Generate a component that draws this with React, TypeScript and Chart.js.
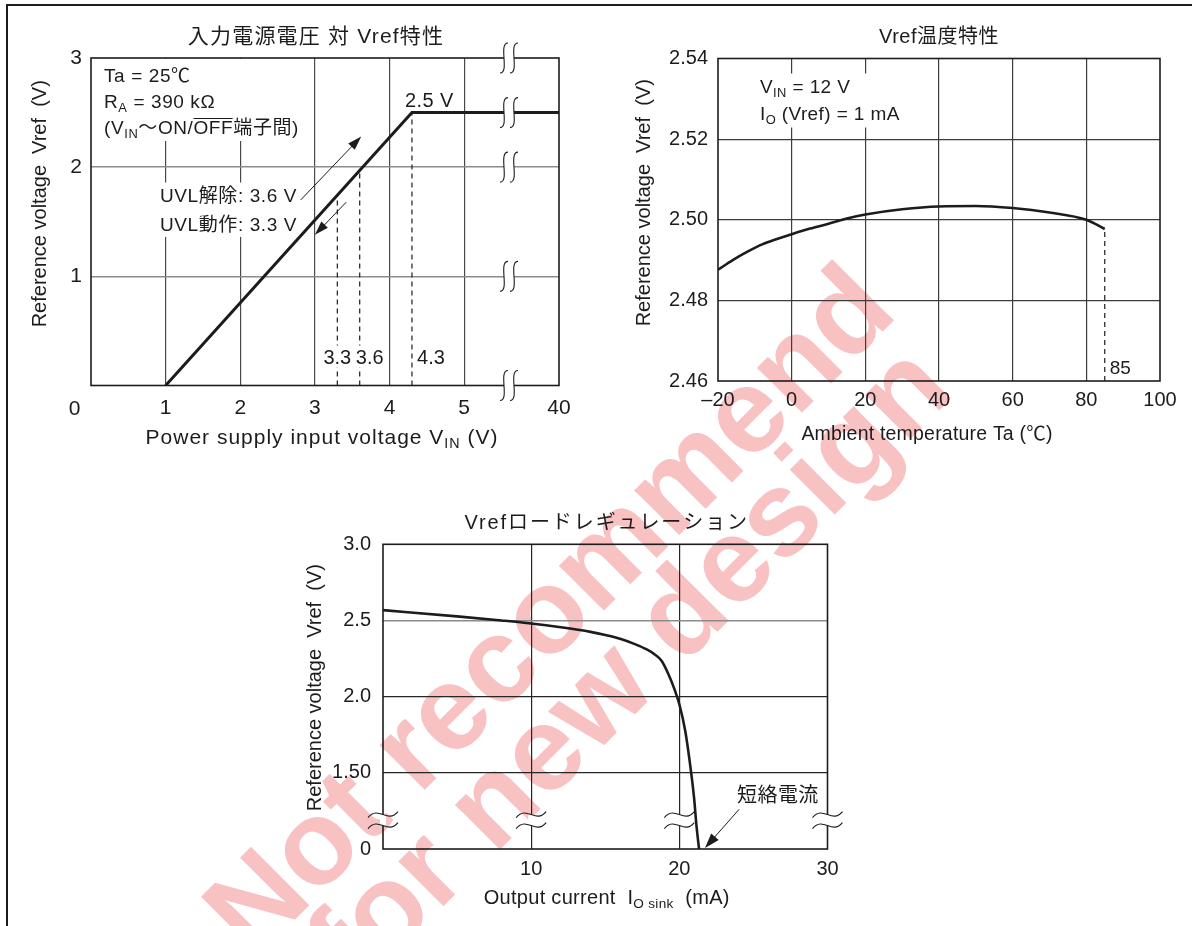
import React, { useEffect, useRef } from 'react';
import { Chart, registerables } from 'chart.js';

Chart.register(...registerables);

const W = 1192;
const H = 926;
const SANS = '"Liberation Sans", "Noto Sans CJK JP", Arial, sans-serif';
const INK = '#1c1c1c';
const GRID_DARK = '#3c3c3c';
const GRID_GREY = '#8c8c8c';
const TICK = 20;
const NOTE = 19;

Chart.defaults.font.family = SANS;
Chart.defaults.color = INK;

// ---- 入力電源電圧 対 Vref特性 ----
const vinPoints = [1, 4.3, 40];
const vrefVsVin = [0, 2.5, 2.5];
const vinTicks = [0, 1, 2, 3, 4, 5, 40];
const vinTickLabels = ['0', '1', '2', '3', '4', '5', '40'];
const vrefTicksA = [0, 1, 2, 3];
const vrefTickLabelsA = ['0', '1', '2', '3'];
const uvlVin = [3.3, 3.6, 4.3];
const uvlVinLabels = ['3.3', '3.6', '4.3'];
const uvlNotes = ['UVL解除: 3.6 V', 'UVL動作: 3.3 V'];
const breakRowsA = [0, 1, 2, 2.5, 3];

// ---- Vref温度特性 ----
const tempPoints = [-20, -16, -12, -8, -4, 0, 5, 10, 15, 20, 30, 40, 50, 60, 70, 80, 85];
const vrefVsTemp = [
  2.4876, 2.49, 2.4921, 2.4939, 2.4952, 2.4964, 2.4978, 2.499, 2.5003, 2.5013, 2.5026, 2.5033,
  2.5034, 2.5029, 2.5018, 2.5, 2.4977,
];
const tempTicks = [-20, 0, 20, 40, 60, 80, 100];
const vrefTicksB = [2.46, 2.48, 2.5, 2.52, 2.54];

// ---- Vrefロードレギュレーション ----
const sinkPoints = [0, 5, 8, 10, 12, 14, 15, 16, 17, 17.8, 18.3, 18.8, 19.25, 19.65, 20.0, 20.4, 20.8, 21.0, 21.15, 21.33];
const vrefVsSink = [
  2.568, 2.527, 2.5, 2.48, 2.455, 2.425, 2.405, 2.38, 2.345, 2.31, 2.28, 2.235, 2.15, 2.054, 1.95, 1.775, 1.5,
  0.99, 0.48, 0,
];
const sinkTicks = [0, 10, 20, 30];
const sinkTickLabels = ['', '10', '20', '30'];
const vrefTicksC = [0, 1.5, 2.0, 2.5, 3.0];
const vrefTickLabelsC = ['0', '1.50', '2.0', '2.5', '3.0'];

const watermarkLines = ['Not recommend', 'for new design'];

// The VIN axis is cut after 5 V; the far side keeps the same scale and ends at 40 V.
const X_CUT_A = 5.6;
const X_SPAN_A = 6.27;
const vinToAxis = (v: number) => (v <= X_CUT_A ? v : X_SPAN_A - (vinTicks[vinTicks.length - 1] - v));

// The load-regulation Vref axis squeezes 0 … 1.5 V into the bottom band.
const Y_CUT_C = 1.5;
const Y_BREAK_C = 1.19;
const vrefToAxisC = (v: number) => (v >= Y_CUT_C ? v : 1 + v / 3);

type Seg = { t: string; sub?: boolean; over?: boolean };
type Ctx = CanvasRenderingContext2D;

const fontOf = (size: number, weight = 'normal') => `${weight} ${size}px ${SANS}`;
const plain = (t: string): Seg[] => [{ t }];

function richWidth(ctx: Ctx, segs: Seg[], size: number, spacing = 0) {
  ctx.save();
  (ctx as any).letterSpacing = `${spacing}px`;
  let w = 0;
  for (const s of segs) {
    ctx.font = fontOf(s.sub ? size * 0.68 : size);
    w += ctx.measureText(s.t).width;
  }
  ctx.restore();
  return w;
}

function drawRich(ctx: Ctx, segs: Seg[], x: number, cy: number, size: number, align = 'left', spacing = 0) {
  const total = richWidth(ctx, segs, size, spacing);
  let px = align === 'left' ? x : align === 'center' ? x - total / 2 : x - total;
  const base = cy + size * 0.36;
  ctx.save();
  (ctx as any).letterSpacing = `${spacing}px`;
  ctx.fillStyle = INK;
  ctx.strokeStyle = INK;
  ctx.textAlign = 'left';
  ctx.textBaseline = 'alphabetic';
  for (const s of segs) {
    const sz = s.sub ? size * 0.68 : size;
    ctx.font = fontOf(sz);
    const w = ctx.measureText(s.t).width;
    ctx.fillText(s.t, px, s.sub ? base + size * 0.2 : base);
    if (s.over) {
      ctx.lineWidth = 1.1;
      ctx.beginPath();
      ctx.moveTo(px, base - size * 0.84);
      ctx.lineTo(px + w - spacing, base - size * 0.84);
      ctx.stroke();
    }
    px += w;
  }
  ctx.restore();
  return total;
}

function drawVertical(ctx: Ctx, segs: Seg[], cx: number, cy: number, size: number, spacing = 0) {
  ctx.save();
  ctx.translate(cx, cy);
  ctx.rotate(-Math.PI / 2);
  drawRich(ctx, segs, 0, 0, size, 'center', spacing);
  ctx.restore();
}

function whiteBox(ctx: Ctx, x: number, y: number, w: number, h: number) {
  ctx.save();
  ctx.fillStyle = '#fff';
  ctx.fillRect(x, y, w, h);
  ctx.restore();
}

function frame(ctx: Ctx, ar: { left: number; top: number; width: number; height: number }) {
  ctx.save();
  ctx.strokeStyle = INK;
  ctx.lineWidth = 1.6;
  ctx.strokeRect(ar.left, ar.top, ar.width, ar.height);
  ctx.restore();
}

// Two S-strokes cutting a horizontal line (axis break along x).
function breakAcross(ctx: Ctx, x: number, y: number, gap = 10) {
  ctx.save();
  ctx.fillStyle = '#fff';
  ctx.fillRect(x - gap / 2, y - 3, gap, 6);
  ctx.strokeStyle = INK;
  ctx.lineWidth = 1.1;
  for (const dx of [-gap / 2, gap / 2]) {
    const cx = x + dx;
    ctx.beginPath();
    ctx.moveTo(cx + 4, y - 15);
    ctx.bezierCurveTo(cx - 6, y - 15, cx + 6, y + 15, cx - 4, y + 15);
    ctx.stroke();
  }
  ctx.restore();
}

// Two tilde strokes cutting a vertical line (axis break along y).
function breakAlong(ctx: Ctx, x: number, y: number, gap = 11) {
  ctx.save();
  ctx.fillStyle = '#fff';
  ctx.fillRect(x - 3, y - gap / 2, 6, gap);
  ctx.strokeStyle = INK;
  ctx.lineWidth = 1.1;
  for (const dy of [-gap / 2, gap / 2]) {
    const cy = y + dy;
    ctx.beginPath();
    ctx.moveTo(x - 15, cy + 3);
    ctx.bezierCurveTo(x - 4, cy - 10, x + 4, cy + 10, x + 15, cy - 3);
    ctx.stroke();
  }
  ctx.restore();
}

function arrowTo(ctx: Ctx, x1: number, y1: number, x2: number, y2: number, head = 14, half = 4.5) {
  const a = Math.atan2(y2 - y1, x2 - x1);
  const c = Math.cos(a);
  const s = Math.sin(a);
  ctx.save();
  ctx.strokeStyle = INK;
  ctx.fillStyle = INK;
  ctx.lineWidth = 1;
  ctx.beginPath();
  ctx.moveTo(x1, y1);
  ctx.lineTo(x2 - head * c * 0.7, y2 - head * s * 0.7);
  ctx.stroke();
  ctx.beginPath();
  ctx.moveTo(x2, y2);
  ctx.lineTo(x2 - head * c - half * s, y2 - head * s + half * c);
  ctx.lineTo(x2 - head * c + half * s, y2 - head * s - half * c);
  ctx.closePath();
  ctx.fill();
  ctx.restore();
}

function dashedDrop(ctx: Ctx, x: number, yTop: number, yBottom: number) {
  ctx.save();
  ctx.setLineDash([5, 4]);
  ctx.lineWidth = 1.2;
  ctx.strokeStyle = INK;
  ctx.beginPath();
  ctx.moveTo(x, yBottom);
  ctx.lineTo(x, yTop);
  ctx.stroke();
  ctx.restore();
}

function axis(
  min: number,
  max: number,
  values: number[],
  labels: string[],
  fit: number,
  horizontal: boolean,
  padding: number,
  gridColor: (v: number) => string,
  gridWidth: (v: number) => number,
  size = TICK,
) {
  return {
    type: 'linear' as const,
    min,
    max,
    afterBuildTicks: (s: any) => {
      s.ticks = values.map((v) => ({ value: v }));
    },
    afterFit: (s: any) => {
      if (horizontal) s.height = fit;
      else s.width = fit;
    },
    ticks: {
      callback: (_v: any, i: number) => labels[i],
      color: INK,
      font: { family: SANS, size },
      padding,
      autoSkip: false,
      maxRotation: 0,
      minRotation: 0,
    },
    grid: {
      color: (c: any) => gridColor(c.tick ? c.tick.value : NaN),
      lineWidth: (c: any) => gridWidth(c.tick ? c.tick.value : NaN),
      drawTicks: false,
    },
    border: { display: false },
  };
}

const baseOptions = (padding: { left: number; top: number; right: number; bottom: number }) => ({
  responsive: false,
  animation: false as const,
  events: [],
  layout: { padding },
  plugins: { legend: { display: false }, tooltip: { enabled: false }, title: { display: false } },
});

// ---------- 入力電源電圧 対 Vref特性 ----------
function buildSupply(canvas: HTMLCanvasElement) {
  const conditionLines: Seg[][] = [
    plain('Ta = 25℃'),
    [{ t: 'R' }, { t: 'A', sub: true }, { t: ' = 390 kΩ' }],
    [{ t: '(V' }, { t: 'IN', sub: true }, { t: '〜ON/' }, { t: 'OFF', over: true }, { t: '端子間)' }],
  ];
  const notes = {
    id: 'supplyNotes',
    beforeDatasetsDraw(chart: any) {
      const { ctx, chartArea: ar, scales } = chart;
      const X = (v: number) => scales.x.getPixelForValue(vinToAxis(v));
      const Y = (v: number) => scales.y.getPixelForValue(v);
      const cw = Math.max(...conditionLines.map((l) => richWidth(ctx, l, NOTE, 0.6)));
      whiteBox(ctx, ar.left + 1, ar.top + 1, cw + 20, 82);
      const uw = Math.max(...uvlNotes.map((l) => richWidth(ctx, plain(l), NOTE, 0.6)));
      const right = X(2.76);
      whiteBox(ctx, right - uw - 6, Y(1.74) - 13, uw + 10, Y(1.48) - Y(1.74) + 26);
    },
    afterDatasetsDraw(chart: any) {
      const { ctx, chartArea: ar, scales } = chart;
      const X = (v: number) => scales.x.getPixelForValue(vinToAxis(v));
      const Y = (v: number) => scales.y.getPixelForValue(v);
      const lineAt = (v: number) => {
        for (let i = 1; i < vinPoints.length; i++) {
          if (v <= vinPoints[i]) {
            const t = (v - vinPoints[i - 1]) / (vinPoints[i] - vinPoints[i - 1]);
            return vrefVsVin[i - 1] + t * (vrefVsVin[i] - vrefVsVin[i - 1]);
          }
        }
        return vrefVsVin[vrefVsVin.length - 1];
      };
      frame(ctx, ar);

      // drop lines for the UVL thresholds and the regulation knee
      uvlVin.forEach((v) => dashedDrop(ctx, X(v), Y(lineAt(v)), ar.bottom));
      const labelY = ar.bottom - 29;
      const labelX = [X(uvlVin[0]), X(uvlVin[1]) + 10, X(uvlVin[2]) + 19];
      uvlVinLabels.forEach((s, i) => {
        const w = richWidth(ctx, plain(s), NOTE + 1);
        whiteBox(ctx, labelX[i] - w / 2 - 1, labelY - 11, w + 2, 22);
        drawRich(ctx, plain(s), labelX[i], labelY, NOTE + 1, 'center');
      });

      // conditions
      conditionLines.forEach((l, i) => drawRich(ctx, l, ar.left + 13, ar.top + 17 + i * 26.3, NOTE, 'left', 0.6));

      // knee value
      drawRich(ctx, plain('2.5 V'), X(4.3) - 7, Y(2.5) - 12.5, NOTE + 1, 'left', 0.4);

      // UVL hysteresis notes and arrows
      drawRich(ctx, plain(uvlNotes[0]), X(2.76), Y(1.74), NOTE, 'right', 0.6);
      drawRich(ctx, plain(uvlNotes[1]), X(2.76), Y(1.48), NOTE, 'right', 0.6);
      arrowTo(ctx, X(2.81), Y(1.7), X(3.62), Y(2.28));
      arrowTo(ctx, X(3.42), Y(1.68), X(3.0), Y(1.38));

      // axis break
      breakRowsA.forEach((r) => breakAcross(ctx, X(X_CUT_A), Y(r)));

      // origin label shared by both axes
      drawRich(ctx, plain('0'), ar.left - 16.5, ar.bottom + 22, 21, 'center');

      // titles
      drawRich(ctx, plain('入力電源電圧 対 Vref特性'), ar.left + 225, ar.top - 22.5, 21, 'center', 1.2);
      drawVertical(ctx, plain('Reference voltage  Vref  (V)'), ar.left - 52, (ar.top + ar.bottom) / 2 - 18, 20);
      drawRich(
        ctx,
        [{ t: 'Power supply input voltage V' }, { t: 'IN', sub: true }, { t: ' (V)' }],
        (ar.left + ar.right) / 2 - 3,
        ar.bottom + 51,
        21,
        'center',
        1,
      );
    },
  };

  return new Chart(canvas, {
    type: 'line',
    data: {
      datasets: [
        {
          data: vinPoints.map((v, i) => ({ x: vinToAxis(v), y: vrefVsVin[i] })),
          borderColor: INK,
          borderWidth: 3,
          pointRadius: 0,
          tension: 0,
          fill: false,
          borderJoinStyle: 'miter',
        },
      ],
    },
    options: {
      ...baseOptions({ left: 31, top: 58, right: W - 559, bottom: H - 385.5 - 40 }),
      scales: {
        x: axis(
          0,
          vinToAxis(40),
          vinTicks.map(vinToAxis),
          vinTickLabels.map((l, i) => (i === 0 ? '' : l)),
          40,
          true,
          10.5,
          (v) => (v > 0.01 && v < X_SPAN_A - 0.01 ? '#4a4a4a' : 'rgba(0,0,0,0)'),
          () => 1.2,
          21,
        ),
        y: axis(
          0,
          3,
          vrefTicksA,
          vrefTickLabelsA.map((l, i) => (i === 0 ? '' : l)),
          60,
          false,
          9,
          (v) => (v > 0.01 && v < 2.99 ? GRID_GREY : 'rgba(0,0,0,0)'),
          () => 1.6,
          21,
        ),
      },
    } as any,
    plugins: [notes],
  });
}

// ---------- Vref温度特性 ----------
function buildTemp(canvas: HTMLCanvasElement) {
  const condition: Seg[][] = [
    [{ t: 'V' }, { t: 'IN', sub: true }, { t: ' = 12 V' }],
    [{ t: 'I' }, { t: 'O', sub: true }, { t: ' (Vref) = 1 mA' }],
  ];
  const lastT = tempPoints[tempPoints.length - 1];
  const lastV = vrefVsTemp[vrefVsTemp.length - 1];
  const notes = {
    id: 'tempNotes',
    beforeDatasetsDraw(chart: any) {
      const { ctx, chartArea: ar } = chart;
      const w = Math.max(...condition.map((l) => richWidth(ctx, l, NOTE, 0.4)));
      whiteBox(ctx, ar.left + 37, ar.top + 15, w + 12, 54);
    },
    afterDatasetsDraw(chart: any) {
      const { ctx, chartArea: ar, scales } = chart;
      const X = (v: number) => scales.x.getPixelForValue(v);
      const Y = (v: number) => scales.y.getPixelForValue(v);
      frame(ctx, ar);
      dashedDrop(ctx, X(lastT), Y(lastV), ar.bottom);
      drawRich(ctx, plain(String(lastT)), X(lastT) + 5, ar.bottom - 14, NOTE, 'left');
      condition.forEach((l, i) => drawRich(ctx, l, ar.left + 42, ar.top + 27.5 + i * 27, NOTE, 'left', 0.4));
      drawRich(ctx, plain('Vref温度特性'), (ar.left + ar.right) / 2, ar.top - 22.5, 20, 'center', 0.5);
      drawVertical(ctx, plain('Reference voltage  Vref  (V)'), ar.left - 75, (ar.top + ar.bottom) / 2 - 17, 20);
      drawRich(ctx, plain('Ambient temperature Ta (℃)'), (ar.left + ar.right) / 2 - 12, ar.bottom + 52, 19.5, 'center', 0.2);
    },
  };

  return new Chart(canvas, {
    type: 'line',
    data: {
      datasets: [
        {
          data: tempPoints.map((t, i) => ({ x: t, y: vrefVsTemp[i] })),
          borderColor: INK,
          borderWidth: 2.6,
          pointRadius: 0,
          cubicInterpolationMode: 'monotone',
          fill: false,
        },
      ],
    },
    options: {
      ...baseOptions({ left: 718 - 60, top: 58.5, right: W - 1160, bottom: H - 381 - 40 }),
      scales: {
        x: axis(
          -20,
          100,
          tempTicks,
          tempTicks.map((t) => (t < 0 ? `–${-t}` : String(t))),
          40,
          true,
          7.5,
          (v) => (v > -19.9 && v < 99.9 ? GRID_DARK : 'rgba(0,0,0,0)'),
          () => 1.2,
        ),
        y: axis(
          2.46,
          2.54,
          vrefTicksB,
          vrefTicksB.map((v) => v.toFixed(2)),
          60,
          false,
          10,
          (v) => (v > 2.4601 && v < 2.5399 ? GRID_DARK : 'rgba(0,0,0,0)'),
          () => 1.2,
        ),
      },
    } as any,
    plugins: [notes],
  });
}

// ---------- Vrefロードレギュレーション ----------
function buildLoad(canvas: HTMLCanvasElement) {
  const endI = sinkPoints[sinkPoints.length - 1];
  const endV = vrefVsSink[vrefVsSink.length - 1];
  const notes = {
    id: 'loadNotes',
    afterDatasetsDraw(chart: any) {
      const { ctx, chartArea: ar, scales } = chart;
      const X = (v: number) => scales.x.getPixelForValue(v);
      const Y = (v: number) => scales.y.getPixelForValue(vrefToAxisC(v));
      frame(ctx, ar);
      const yb = scales.y.getPixelForValue(Y_BREAK_C);
      sinkTicks.forEach((t) => breakAlong(ctx, X(t), yb));

      // short-circuit current callout
      const lx = X(23.9);
      const ly = scales.y.getPixelForValue(1.359);
      drawRich(ctx, plain('短絡電流'), lx, ly, NOTE + 1, 'left', 0.4);
      arrowTo(ctx, lx + 2, ly + 15, X(endI) + 6, Y(endV) - 1, 15, 5);

      drawRich(ctx, plain('Vrefロードレギュレーション'), (ar.left + ar.right) / 2 + 1.5, ar.top - 23, 20, 'center', 1.9);
      drawVertical(ctx, plain('Reference voltage  Vref  (V)'), ar.left - 69, (ar.top + ar.bottom) / 2 - 9, 20);
      drawRich(
        ctx,
        [{ t: 'Output current  I' }, { t: 'O sink', sub: true }, { t: '  (mA)' }],
        (ar.left + ar.right) / 2 + 1.5,
        ar.bottom + 48,
        20,
        'center',
        0.3,
      );
    },
  };

  return new Chart(canvas, {
    type: 'line',
    data: {
      datasets: [
        {
          data: sinkPoints.map((s, i) => ({ x: s, y: vrefToAxisC(vrefVsSink[i]) })),
          borderColor: INK,
          borderWidth: 2.6,
          pointRadius: 0,
          cubicInterpolationMode: 'monotone',
          fill: false,
        },
      ],
    },
    options: {
      ...baseOptions({ left: 383 - 60, top: 544.3, right: W - 827.5, bottom: H - 849 - 40 }),
      scales: {
        x: axis(
          0,
          30,
          sinkTicks,
          sinkTickLabels,
          40,
          true,
          8,
          (v) => (v > 0.01 && v < 29.99 ? '#262626' : 'rgba(0,0,0,0)'),
          () => 1.2,
        ),
        y: axis(
          1,
          3,
          vrefTicksC.map(vrefToAxisC),
          vrefTickLabelsC,
          60,
          false,
          12,
          (v) => (v > 1.01 && v < 2.99 ? (Math.abs(v - 2.5) < 0.01 ? GRID_GREY : '#262626') : 'rgba(0,0,0,0)'),
          (v) => (Math.abs(v - 2.5) < 0.01 ? 1.6 : 1.2),
        ),
      },
    } as any,
    plugins: [notes],
  });
}

function Watermark() {
  const base: React.CSSProperties = {
    position: 'absolute',
    whiteSpace: 'nowrap',
    font: `bold 120px ${SANS}`,
    color: '#f9c2c2',
    lineHeight: 1,
    transform: 'translate(-50%, -50%) rotate(-45deg)',
  };
  return (
    <>
      <div style={{ ...base, left: 547, top: 608 }}>{watermarkLines[0]}</div>
      <div style={{ ...base, left: 627, top: 663 }}>{watermarkLines[1]}</div>
    </>
  );
}

export default function App() {
  const supplyRef = useRef<HTMLCanvasElement>(null);
  const tempRef = useRef<HTMLCanvasElement>(null);
  const loadRef = useRef<HTMLCanvasElement>(null);

  useEffect(() => {
    const charts = [
      buildSupply(supplyRef.current!),
      buildTemp(tempRef.current!),
      buildLoad(loadRef.current!),
    ];
    return () => charts.forEach((c) => c.destroy());
  }, []);

  const layer: React.CSSProperties = { position: 'absolute', left: 0, top: 0, width: W, height: H };

  return (
    <div
      style={{
        position: 'absolute',
        left: 0,
        top: 0,
        width: W,
        height: H,
        background: '#fff',
        overflow: 'hidden',
      }}
    >
      <Watermark />
      <div
        style={{
          position: 'absolute',
          left: 6,
          top: 4,
          width: W,
          height: H,
          borderTop: `2px solid ${INK}`,
          borderLeft: `2px solid ${INK}`,
        }}
      />
      <canvas ref={supplyRef} width={W} height={H} style={layer} />
      <canvas ref={tempRef} width={W} height={H} style={layer} />
      <canvas ref={loadRef} width={W} height={H} style={layer} />
    </div>
  );
}
